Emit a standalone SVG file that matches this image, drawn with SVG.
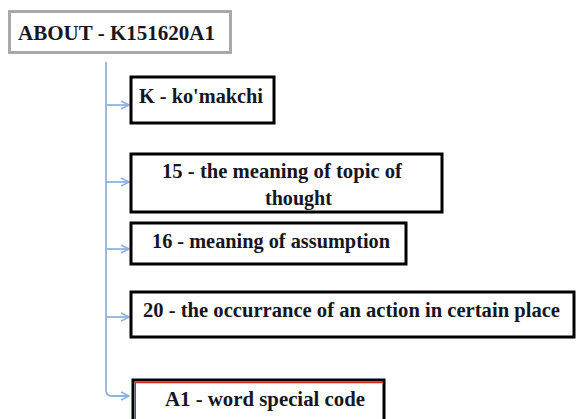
<svg xmlns="http://www.w3.org/2000/svg" width="576" height="419" viewBox="0 0 576 419">
<defs>
<style>
.t{font-family:"Liberation Serif","Times New Roman",serif;font-weight:bold;font-size:20px;fill:#161622}
.box{fill:#fff;stroke:#000;stroke-width:3}
.conn{fill:none;stroke:#8fb3e0;stroke-width:1.8}
</style>
<marker id="arr" viewBox="0 0 10 10" refX="9" refY="5" markerWidth="10" markerHeight="10" markerUnits="userSpaceOnUse" orient="auto">
<path d="M1,1 L9,5 L1,9" fill="none" stroke="#8fb3e0" stroke-width="1.6"/>
</marker>
</defs>
<rect width="576" height="419" fill="#fff"/>
<g id="connectors">
<path class="conn" d="M106,62 V390 Q106,396 112,396 H129" marker-end="url(#arr)"/>
<path class="conn" d="M106,105 H129" marker-end="url(#arr)"/>
<path class="conn" d="M106,182 H129" marker-end="url(#arr)"/>
<path class="conn" d="M106,249 H129" marker-end="url(#arr)"/>
<path class="conn" d="M106,317 H129" marker-end="url(#arr)"/>
</g>
<g id="root">
<rect x="9.5" y="11.5" width="221" height="41" fill="#fff" stroke="#a9a9a9" stroke-width="3"/>
<text class="t" x="18" y="40" font-size="21" textLength="197" lengthAdjust="spacingAndGlyphs">ABOUT - K151620A1</text>
</g>
<g id="node-k">
<rect class="box" x="131" y="77" width="143" height="46"/>
<text class="t" x="139" y="103" textLength="124" lengthAdjust="spacingAndGlyphs">K - ko'makchi</text>
</g>
<g id="node-15">
<rect class="box" x="131" y="154" width="311" height="58"/>
<text class="t" x="162" y="178" textLength="240" lengthAdjust="spacingAndGlyphs">15 - the meaning of topic of</text>
<text class="t" x="265" y="205" textLength="67" lengthAdjust="spacingAndGlyphs">thought</text>
</g>
<g id="node-16">
<rect class="box" x="131" y="223" width="275" height="41"/>
<text class="t" x="152" y="248" textLength="238" lengthAdjust="spacingAndGlyphs">16 - meaning of assumption</text>
</g>
<g id="node-20">
<rect class="box" x="131" y="292" width="443" height="45"/>
<text class="t" x="143" y="317" textLength="417" lengthAdjust="spacingAndGlyphs">20 - the occurrance of an action in certain place</text>
</g>
<g id="node-a1">
<rect class="box" x="133" y="380" width="251" height="45"/>
<path d="M135,382.5 H382.5" stroke="#e02020" stroke-width="1.5" fill="none"/>
<path d="M135.5,382 V419" stroke="#e02020" stroke-width="1" fill="none"/>
<text class="t" x="165" y="406" textLength="200" lengthAdjust="spacingAndGlyphs">A1 - word special code</text>
</g>
</svg>
